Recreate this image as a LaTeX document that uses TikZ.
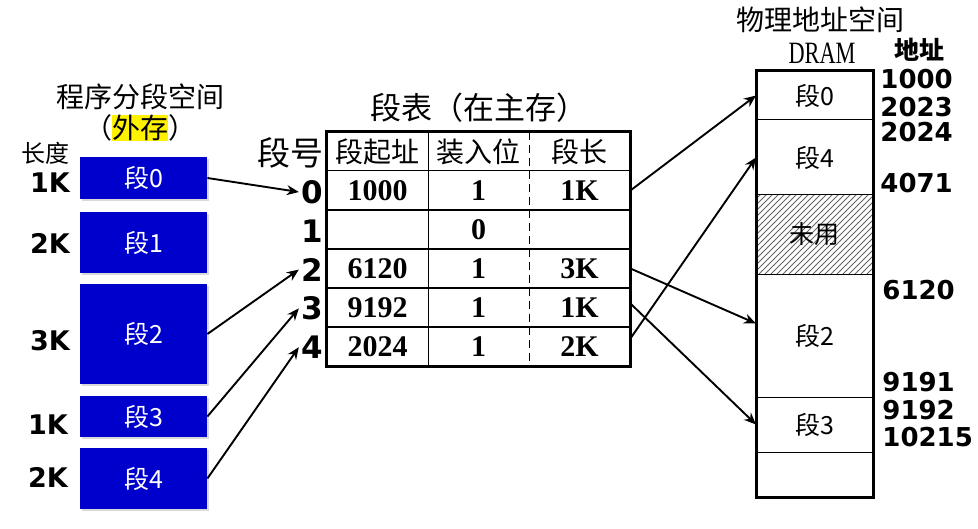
\documentclass[tikz,border=0pt]{standalone}
\usepackage{fontspec}
\setmainfont{Liberation Serif}
\newfontfamily\cjk{Noto Sans CJK SC}
\newfontfamily\versans{DejaVu Sans}
\usetikzlibrary{arrows.meta}
\usetikzlibrary{positioning}
\usetikzlibrary{patterns}
\usetikzlibrary{shadows}
\definecolor{segblue}{RGB}{0,0,204}
\setlength{\fboxsep}{0pt}

\begin{document}
\begin{tikzpicture}[x=0.5pt, y=-0.5pt,
    segbox/.style={rectangle, fill=segblue, text=white, minimum width=63.5pt, inner sep=0pt, font=\cjk\fontsize{12.5}{14}\selectfont, drop shadow={shadow xshift=1.2pt, shadow yshift=-1.2pt, opacity=0.3}},
    lenlabel/.style={font=\versans\bfseries\fontsize{13.5}{15}\selectfont},
    title/.style={font=\cjk\fontsize{14}{16}\selectfont},
    segnum/.style={font=\versans\bfseries\fontsize{15.5}{17}\selectfont, inner sep=1pt},
    cell/.style={minimum width=50.5pt, minimum height=19.5pt, inner sep=0pt, font=\bfseries\fontsize{15}{17}\selectfont},
    headcell/.style={cell, font=\cjk\fontsize{14}{16}\selectfont},
    memcell/.style={rectangle, draw, line width=0.5pt, minimum width=58.5pt, inner sep=0pt, outer sep=0pt, font=\cjk\fontsize{12.5}{14}\selectfont},
    addr/.style={anchor=west, inner sep=0pt, font=\versans\bfseries\fontsize{13}{14}\selectfont},
    link/.style={-{Stealth[length=6pt, width=5pt]}, line width=0.95pt}
]
    \useasboundingbox (0,0) rectangle (978,529);

    % program segment space
    \node [title] (progtitle) at (140,97) {程序分段空间};
    \node [title] (progsub) at (140,128) {（\colorbox{yellow}{外存}）};
    \node [font=\cjk\fontsize{12}{14}\selectfont] (lentitle) at (45,153) {长度};
    \node [segbox, minimum height=21pt] (s0) at (143.5,178) {段0};
    \node [segbox, minimum height=30.5pt] (s1) at (143.5,242.5) {段1};
    \node [segbox, minimum height=50pt] (s2) at (143.5,334) {段2};
    \node [segbox, minimum height=20.5pt] (s3) at (143.5,416.5) {段3};
    \node [segbox, minimum height=30.5pt] (s4) at (143.5,478.5) {段4};
    \node [lenlabel] (len0) at (50,183) {1K};
    \node [lenlabel] (len1) at (50,243) {2K};
    \node [lenlabel] (len2) at (50,341) {3K};
    \node [lenlabel] (len3) at (48,425) {1K};
    \node [lenlabel] (len4) at (48,477) {2K};

    % segment table
    \node [font=\cjk\fontsize{15.5}{17}\selectfont] (tabtitle) at (479,108) {段表（在主存）};
    \node [font=\cjk\fontsize{16.5}{18}\selectfont] (numtitle) at (290,153) {段号};
    \node [headcell] (h1) at (377.5,151.5) {段起址};
    \node [headcell] (h2) at (478.5,151.5) {装入位};
    \node [headcell] (h3) at (579.5,151.5) {段长};
    \foreach \base/\bit/\len [count=\i from 0] in {1000/1/1K, /0/, 6120/1/3K, 9192/1/1K, 2024/1/2K} {
        \node [cell] (a\i) at (377.5,{190.5+39*\i}) {\base};
        \node [cell] (b\i) at (478.5,{190.5+39*\i}) {\bit};
        \node [cell] (l\i) at (579.5,{190.5+39*\i}) {\len};
        \node [segnum] (n\i) at (312,{192+38.8*\i}) {\i};
        \draw [line width=0.9pt] (a\i.north west) -- (l\i.north east);
    }
    \draw [line width=0.9pt] (h1.north east) -- (a4.south east);
    \draw [line width=0.9pt, dash pattern=on 4pt off 2.5pt] (h2.north east) -- (b4.south east);
    \draw [line width=1.4pt] (h1.north west) rectangle (l4.south east);

    % physical memory
    \node [title] (memtitle) at (820,20) {物理地址空间};
    \node [font=\fontsize{15.5}{17}\selectfont] (dram) at (822,53) {\scalebox{0.72}[1]{DRAM}};
    \node [font=\cjk\bfseries\fontsize{12.5}{14}\selectfont] (addrtitle) at (919,50) {地址};
    \node [memcell, minimum height=24.5pt] (m0) at (814.5,95.5) {段0};
    \node [memcell, minimum height=37.5pt, below=0pt of m0] (m4) {段4};
    \node [memcell, minimum height=39.5pt, below=0pt of m4, pattern=north east lines, pattern color=black!60] (mu) {未用};
    \node [memcell, minimum height=61.5pt, below=0pt of mu] (m2) {段2};
    \node [memcell, minimum height=27.5pt, below=0pt of m2] (m3) {段3};
    \node [memcell, minimum height=22.5pt, below=0pt of m3] (me) {};
    \draw [line width=1.5pt] (m0.north west) rectangle (me.south east);
    \node [addr] (ad1) at (880,79) {1000};
    \node [addr] (ad2) at (880,107) {2023};
    \node [addr] (ad3) at (880,132) {2024};
    \node [addr] (ad4) at (880,183) {4071};
    \node [addr] (ad5) at (882,290) {6120};
    \node [addr] (ad6) at (882,382) {9191};
    \node [addr] (ad7) at (882,410) {9192};
    \node [addr] (ad8) at (882,437) {10215};

    % arrows
    \draw [link] (s0.east) -- (n0.west);
    \draw [link] (s2.east) -- (n2.west);
    \draw [link] (s3.east) -- (n3.west);
    \draw [link] (s4.east) -- (n4.west);
    \draw [link] (l0.east) -- (m0.west);
    \draw [link] (l2.east) -- ([yshift=6pt]m2.west);
    \draw [link] ([yshift=2pt]l3.east) -- (m3.west);
    \draw [link] ([yshift=4pt]l4.east) -- (m4.west);
\end{tikzpicture}
\end{document}
